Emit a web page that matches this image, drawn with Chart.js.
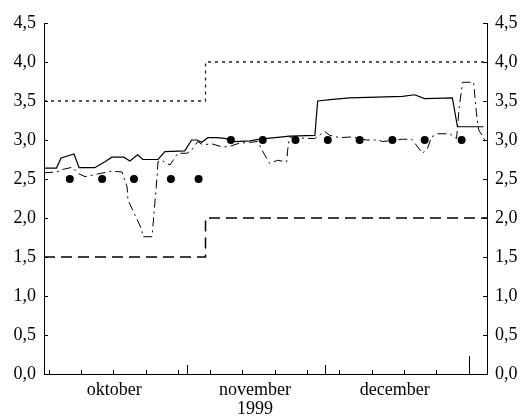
<!DOCTYPE html>
<html>
<head>
<meta charset="utf-8">
<script src="https://cdn.jsdelivr.net/npm/chart.js@4"></script>
<style>
  html, body { margin: 0; padding: 0; background: #fff; }
  #wrap { width: 523px; height: 416px; }
</style>
</head>
<body>
<div id="wrap"><canvas id="rates" width="523" height="416"></canvas></div>
<script>
// days counted from 1 oktober 1999
const dayMax = 96;

// standing facilities (step on day 35)
const upperDays   = [0, 35, 35, 96];
const upperValues = [3.5, 3.5, 4.0, 4.0];
const lowerDays   = [0, 35, 35, 96];
const lowerValues = [1.5, 1.5, 2.0, 2.0];

// weekly tender rate
const tenderDays   = [5.6, 12.6, 19.5, 27.5, 33.5, 40.5, 47.4, 54.5, 61.5, 68.4, 75.5, 82.5, 90.5];
const tenderValues = [2.5, 2.5, 2.5, 2.5, 2.5, 3.0, 3.0, 3.0, 3.0, 3.0, 3.0, 3.0, 3.0];

// one-month rate (solid)
const monthRateDays = [0, 2.7, 3.7, 6.5, 7.6, 11, 11.7, 13.2, 14.7, 17.3, 18.6, 20.3, 21.4, 24.7,
  26.2, 30.5, 32, 33.1, 34.2, 35.5, 37.4, 39.2, 41.3, 44.6, 46.8, 51.7, 53.2, 58.7, 59.3, 62.6,
  66.2, 72.1, 77.7, 80.3, 82.5, 88.5, 89.6, 95.2];
const monthRateValues = [2.64, 2.64, 2.77, 2.82, 2.645, 2.645, 2.67, 2.72, 2.78, 2.78, 2.73, 2.81, 2.75, 2.75,
  2.85, 2.86, 3.0, 3.0, 2.97, 3.03, 3.03, 3.02, 2.98, 2.99, 3.01, 3.04, 3.05, 3.06, 3.5, 3.52,
  3.54, 3.55, 3.56, 3.58, 3.53, 3.54, 3.17, 3.17];

// overnight rate (dash-dot)
const overnightDays = [0, 2.8, 3.9, 6.1, 7.4, 8.9, 12.1, 14.7, 16.9, 18.0, 18.2, 19.7, 21.2, 21.4,
  23.4, 23.6, 24.5, 24.7, 25.5, 27.3, 29.0, 31.0, 32.0, 33.3, 34.4, 36.4, 38.7, 40.3, 42.4, 44.6,
  46.3, 47.8, 48.9, 50.6, 52.6, 52.8, 53.2, 56.9, 58.7, 60.8, 61.9, 64.1, 66.9, 68.0, 69.9, 72.3,
  73.4, 77.7, 79.7, 81.0, 82.0, 83.1, 84.0, 85.3, 87.9, 89.4, 90.0, 90.7, 93.1, 93.7, 94.2, 95.5];
const overnightValues = [2.58, 2.59, 2.62, 2.65, 2.57, 2.53, 2.57, 2.6, 2.59, 2.4, 2.23, 2.04, 1.85, 1.76,
  1.76, 1.89, 2.53, 2.72, 2.74, 2.68, 2.83, 2.83, 2.87, 2.98, 2.94, 2.95, 2.91, 2.92, 2.96, 2.97,
  2.98, 2.81, 2.70, 2.74, 2.72, 2.87, 3.04, 3.02, 3.02, 3.11, 3.06, 3.03, 3.04, 3.02, 3.0, 3.0,
  2.98, 3.01, 3.01, 2.91, 2.83, 2.89, 3.04, 3.08, 3.08, 3.02, 3.43, 3.74, 3.74, 3.35, 3.13, 3.0];

// axis marks and labels
const yTickValues = [0, 0.5, 1.0, 1.5, 2.0, 2.5, 3.0, 3.5, 4.0, 4.5];
const weekTicks   = [1, 8, 15, 22, 29, 36, 43, 50, 57, 64, 71, 78, 85];
const monthStarts = [31, 61, 92];
const monthCenters = [15.2, 45.7, 76];
const monthLabels  = ["oktober", "november", "december"];
const yearLabel    = "1999";

const toPoints = (xs, ys) => xs.map((d, i) => ({ x: d, y: ys[i] }));
const fmt = v => v.toFixed(1).replace(".", ",");
const serif = { family: "'Liberation Serif', 'DejaVu Serif', serif", size: 18 };

// inward tick marks on all three axes
const axisMarks = {
  id: "axisMarks",
  afterDraw(chart) {
    const { ctx, chartArea: a, scales } = chart;
    const x = scales.x, y = scales.y;
    ctx.save();
    ctx.strokeStyle = "#000";
    ctx.lineWidth = 1;
    ctx.beginPath();
    weekTicks.forEach(d => {
      const px = Math.round(x.getPixelForValue(d)) + 0.5;
      ctx.moveTo(px, a.bottom); ctx.lineTo(px, a.bottom - 4);
    });
    monthStarts.forEach((d, i) => {
      const px = Math.round(x.getPixelForValue(d)) + 0.5;
      const len = i === monthStarts.length - 1 ? 18 : 9;
      ctx.moveTo(px, a.bottom); ctx.lineTo(px, a.bottom - len);
    });
    yTickValues.forEach(v => {
      const py = Math.round(y.getPixelForValue(v)) + 0.5;
      ctx.moveTo(a.left, py); ctx.lineTo(a.left + 4, py);
      ctx.moveTo(a.right, py); ctx.lineTo(a.right - 4, py);
    });
    ctx.stroke();
    ctx.restore();
  }
};

const yAxis = (position, width) => ({
  type: "linear",
  position,
  min: 0,
  max: 4.5,
  afterBuildTicks: s => { s.ticks = yTickValues.map(v => ({ value: v })); },
  afterFit: s => { s.width = width; },
  grid: { display: false, drawTicks: false },
  border: { display: true, color: "#000", width: 1 },
  ticks: { color: "#000", font: serif, padding: 8, callback: v => fmt(v) }
});

new Chart(document.getElementById("rates"), {
  type: "line",
  data: {
    datasets: [
      { data: toPoints(upperDays, upperValues), borderColor: "#222", borderWidth: 1.3, borderDash: [3, 4] },
      { data: toPoints(lowerDays, lowerValues), borderColor: "#000", borderWidth: 1.5, borderDash: [11, 6] },
      { data: toPoints(monthRateDays, monthRateValues), borderColor: "#000", borderWidth: 1.2 },
      { data: toPoints(overnightDays, overnightValues), borderColor: "#000", borderWidth: 1, borderDash: [9, 4, 2, 4] },
      { type: "scatter", data: toPoints(tenderDays, tenderValues), showLine: false,
        pointRadius: 4, pointBackgroundColor: "#000", pointBorderWidth: 0 }
    ]
  },
  options: {
    responsive: false,
    animation: false,
    events: [],
    layout: { padding: { top: 23, left: 0, right: 0, bottom: 0 } },
    elements: { point: { radius: 0 }, line: { tension: 0, fill: false } },
    plugins: { legend: { display: false }, tooltip: { enabled: false } },
    scales: {
      x: {
        type: "linear",
        min: 0,
        max: dayMax,
        afterBuildTicks: s => { s.ticks = monthCenters.map(v => ({ value: v })); },
        afterFit: s => { s.height = 42; },
        grid: { display: false, drawTicks: false },
        border: { display: true, color: "#000", width: 1 },
        ticks: {
          color: "#000",
          font: { ...serif, lineHeight: 1.1 },
          padding: 6,
          maxRotation: 0,
          autoSkip: false,
          callback: (v, i) => i === 1 ? [monthLabels[i], yearLabel] : monthLabels[i]
        }
      },
      y: yAxis("left", 44),
      y2: yAxis("right", 36)
    }
  },
  plugins: [axisMarks]
});
</script>
</body>
</html>
